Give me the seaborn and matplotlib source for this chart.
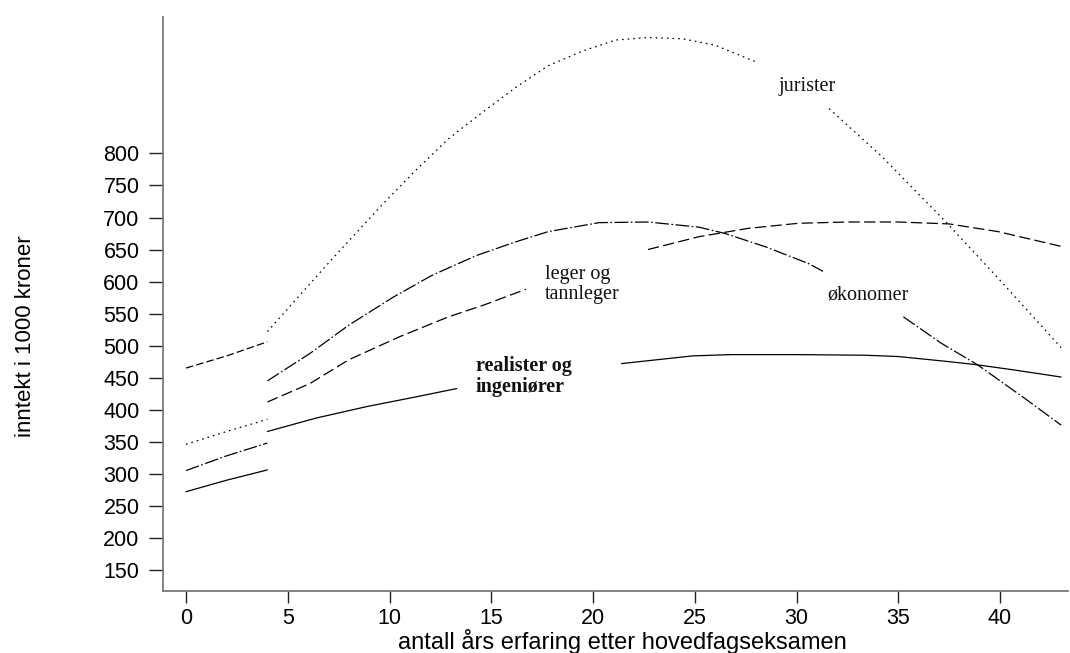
import matplotlib
matplotlib.use("Agg")
import matplotlib.pyplot as plt
import seaborn as sns
import pandas as pd

# ---------------- data ----------------
early_x = [0, 2, 4]
early_top = [465, 484, 506]        # short-dashed start segment
early_dotted = [346, 366, 385]
early_dashdot = [305, 328, 348]
early_solid = [272, 290, 306]

jur_x1 = [4, 5.6, 7.2, 9.7, 11.3, 12.9, 14.6, 16.2, 17.8, 19.5, 21.1, 22.7, 24.4, 26.0, 28.0]
jur_v1 = [522, 579, 636, 722, 774, 823, 865, 903, 937, 960, 977, 981, 979, 969, 943]
jur_x2 = [31.6, 34.2, 37.4, 40.0, 43.0]
jur_v2 = [870, 795, 691, 602, 497]

oko_x1 = [4, 6.1, 8.0, 10.2, 12.1, 14.3, 16.2, 17.8, 20.3, 22.7, 25.2, 26.5, 28.5, 30.6, 31.3]
oko_v1 = [445, 488, 532, 576, 610, 641, 662, 678, 692, 693, 685, 675, 654, 628, 616]
oko_x2 = [35.25, 37.1, 38.9, 41.2, 43.0]
oko_v2 = [545, 504, 470, 418, 376]

leg_x1 = [4, 6.1, 8.0, 10.5, 12.9, 14.6, 16.7]
leg_v1 = [412, 441, 478, 514, 545, 563, 588]
leg_x2 = [22.7, 25.2, 27.6, 30.1, 32.5, 35.0, 37.5, 39.9, 43.0]
leg_v2 = [650, 670, 683, 691, 693, 693, 690, 678, 655]

real_x1 = [4, 6.4, 8.9, 11.3, 13.3]
real_v1 = [366, 387, 405, 420, 433]
real_x2 = [21.4, 24.9, 26.8, 30.0, 33.4, 35.0, 37.5, 38.9, 40.7, 43.0]
real_v2 = [472, 484, 486, 486, 485, 483, 475, 470, 462, 451]

y_ticks = [150, 200, 250, 300, 350, 400, 450, 500, 550, 600, 650, 700, 750, 800]
x_ticks = [0, 5, 10, 15, 20, 25, 30, 35, 40]

x_label = "antall års erfaring etter hovedfagseksamen"
y_label = "inntekt i 1000 kroner"

# ---------------- styles ----------------
DOT = (0, (1.3, 3.2))
DASH = (0, (9, 3.5))
SHORTDASH = (0, (6, 2.5))
DASHDOT = (0, (11, 2, 1.3, 2))
SOLID = "-"

segments = [
    (early_x, early_top, SHORTDASH),
    (early_x, early_dotted, DOT),
    (early_x, early_dashdot, DASHDOT),
    (early_x, early_solid, SOLID),
    (jur_x1, jur_v1, DOT),
    (jur_x2, jur_v2, DOT),
    (oko_x1, oko_v1, DASHDOT),
    (oko_x2, oko_v2, DASHDOT),
    (leg_x1, leg_v1, DASH),
    (leg_x2, leg_v2, DASH),
    (real_x1, real_v1, SOLID),
    (real_x2, real_v2, SOLID),
]

sns.set_theme(style="white")
plt.rcParams["font.family"] = ["Liberation Sans", "DejaVu Sans"]

fig = plt.figure(figsize=(10.70, 6.53), dpi=100)
ax = fig.add_axes([163 / 1070, 1 - 591 / 653, 905 / 1070, 574 / 653])

for xs, vs, ls in segments:
    df = pd.DataFrame({"x": xs, "v": vs})
    sns.lineplot(data=df, x="x", y="v", ax=ax, color="black", linewidth=0.9,
                 linestyle=ls, estimator=None, sort=False, legend=False)

ax.set_xlim(-1.13, 43.34)
ax.set_ylim(117, 1013)
ax.set_xticks(x_ticks)
ax.set_yticks(y_ticks)
ax.tick_params(axis="both", labelsize=15.5, colors="#222222", width=1.0)
ax.tick_params(axis="y", direction="out", length=10, pad=7, left=True)
ax.tick_params(axis="x", direction="out", length=8.5, pad=4, bottom=True)
for lbl in ax.get_xticklabels() + ax.get_yticklabels():
    lbl.set_color("black")

for s in ["top", "right"]:
    ax.spines[s].set_visible(False)
for s in ["left", "bottom"]:
    ax.spines[s].set_color("#7a7a7a")
    ax.spines[s].set_linewidth(1.3)

ax.set_xlabel(x_label, fontsize=17, color="black", va="top")
ax.set_ylabel(y_label, fontsize=16, color="black")
ax.xaxis.set_label_coords(0.508, -0.067)
ax.yaxis.set_label_coords(-0.14, 0.444)

serif = ["Liberation Serif", "DejaVu Serif"]
ax.text(30.5, 905, "jurister", family=serif, fontsize=14.5, ha="center", va="center", color="#111111")
ax.text(17.64, 595, "leger og\ntannleger", family=serif, fontsize=14.5, ha="left", va="center",
        linespacing=1.1, color="#111111")
ax.text(33.5, 579, "økonomer", family=serif, fontsize=14.5, ha="center", va="center", color="#111111")
ax.text(14.25, 452, "realister og\ningeniører", family=serif, fontsize=14.5, ha="left", va="center",
        linespacing=1.05, fontweight="bold", color="#111111")

fig.savefig("out.png", dpi=100)
